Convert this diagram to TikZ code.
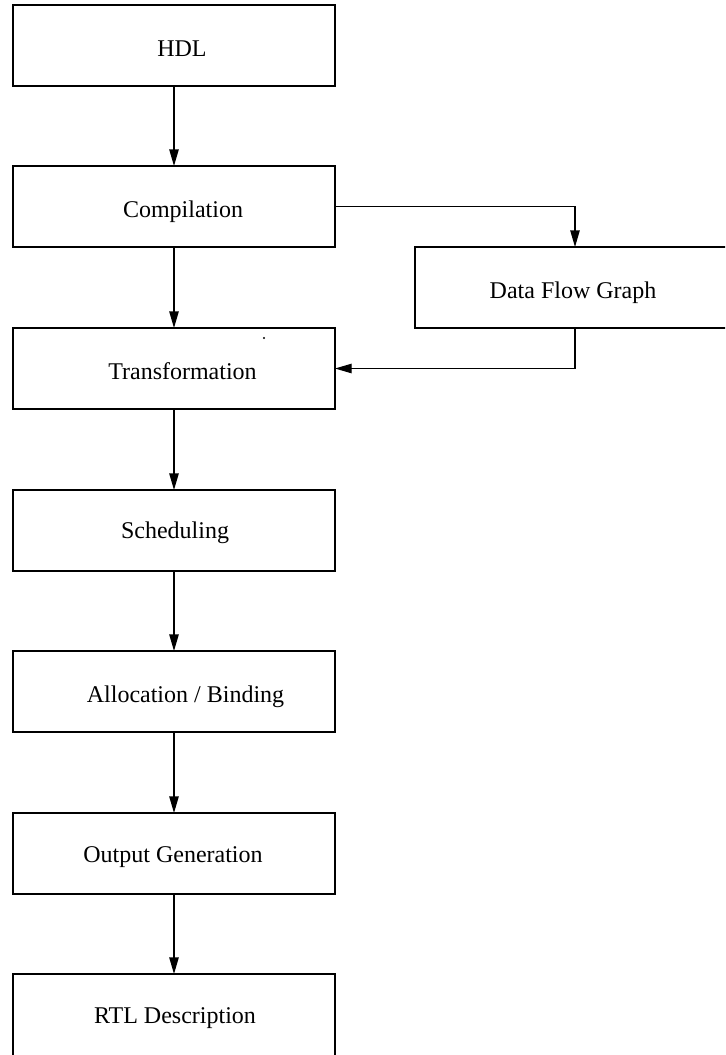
\documentclass[tikz,border=0pt]{standalone}
\usepackage{fontspec}
\setmainfont{Liberation Serif}
\usetikzlibrary{arrows.meta}
\begin{document}
\begin{tikzpicture}[x=0.5pt,y=-0.5pt,
  stage/.style={draw, line width=0.6pt, rectangle, minimum width=161pt,
    minimum height=40.5pt, inner sep=0pt, outer sep=0pt},
  caption/.style={anchor=base, inner sep=0pt, font=\fontsize{12}{14}\selectfont},
  flow/.style={line width=0.6pt, -{Triangle[length=8.3pt,width=4.7pt]}}]
\useasboundingbox (0,0) rectangle (725,1055);
\clip (0,0) rectangle (725,1055);

% design flow stages
\node[stage] (hdl)   at (174,45.5)   {};
\node[stage] (comp)  at (174,206.5)  {};
\node[stage] (trans) at (174,368.5)  {};
\node[stage] (sched) at (174,530.5)  {};
\node[stage] (alloc) at (174,691.5)  {};
\node[stage] (out)   at (174,853.5)  {};
\node[stage, minimum height=44pt] (rtl) at (174,1018) {};
\node[stage, minimum width=160pt] (dfg) at (575,287.5) {};

% stage captions
\node[caption] (hdlt)   at (182,56)    {HDL};
\node[caption] (compt)  at (183,217)   {Compilation};
\node[caption] (transt) at (182.5,379) {Transformation};
\node[caption] (schedt) at (175,538)   {Scheduling};
\node[caption] (alloct) at (185.5,702) {Allocation / Binding};
\node[caption] (outt)   at (173,862)   {Output Generation};
\node[caption] (rtlt)   at (175,1023)  {RTL Description};
\node[caption] (dfgt)   at (573,298)   {Data Flow Graph};

% connectors
\draw[flow] (hdl.south)   -- (comp.north);
\draw[flow] (comp.south)  -- (trans.north);
\draw[flow] (trans.south) -- (sched.north);
\draw[flow] (sched.south) -- (alloc.north);
\draw[flow] (alloc.south) -- (out.north);
\draw[flow] (out.south)   -- (rtl.north);
\draw[flow] (comp.east)   -| (dfg.north);
\draw[flow] (dfg.south)   |- (trans.east);

% small stray mark
\fill (264,338) circle (0.6pt);
\end{tikzpicture}
\end{document}
